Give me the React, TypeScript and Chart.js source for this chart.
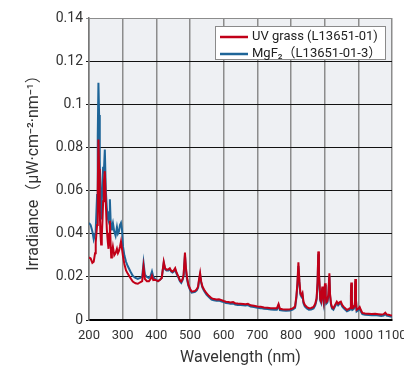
import React, { useEffect, useRef } from "react";
import { Chart, registerables } from "chart.js";
Chart.register(...registerables);

const wavelengths = [
  200, 205, 210, 214, 218, 220, 224, 226, 228, 230, 232, 234, 236, 238, 240, 242, 244, 247, 250, 253,
  256, 258, 260, 262, 264, 266, 268, 271, 275, 279, 283, 286, 289, 292, 295, 298, 301, 305, 310, 315,
  323, 330, 338, 345, 352, 358, 362, 366, 372, 378, 383, 387, 391, 396, 400, 405, 410, 416, 422, 426,
  430, 436, 440, 444, 448, 452, 456, 460, 466, 470, 474, 478, 481, 485, 488, 491, 495, 500, 505, 510,
  515, 520, 524, 527, 530, 533, 537, 542, 549, 556, 564, 571, 579, 586, 594, 600, 607, 614, 620, 628,
  634, 642, 650, 658, 665, 672, 680, 690, 700, 710, 720, 730, 740, 750, 758, 763, 767, 775, 785, 797,
  805, 812, 816, 819, 822, 825, 828, 831, 834, 837, 841, 847, 853, 860, 867, 872, 876, 879, 881, 883,
  885, 887, 889, 891, 893, 895, 897, 899, 901, 903, 905, 908, 911, 914, 916, 919, 922, 926, 931, 936,
  940, 944, 948, 952, 956, 961, 966, 972, 976, 978, 979, 981, 983, 986, 988, 990, 991, 993, 995, 1000,
  1004, 1008, 1012, 1020, 1030, 1040, 1050, 1060, 1068, 1075, 1080, 1084, 1090, 1095, 1100,
];

const uvGrass = [
  0.029, 0.0285, 0.0265, 0.027, 0.031, 0.036, 0.044, 0.06, 0.0837, 0.07, 0.05, 0.04, 0.035, 0.039, 0.046, 0.055, 0.064, 0.069, 0.054, 0.042,
  0.036, 0.033, 0.04, 0.046, 0.036, 0.029, 0.031, 0.034, 0.03, 0.031, 0.033, 0.031, 0.032, 0.034, 0.0364, 0.033, 0.0295, 0.026, 0.023, 0.0215,
  0.0195, 0.0178, 0.017, 0.0168, 0.0175, 0.018, 0.0246, 0.019, 0.018, 0.018, 0.019, 0.0205, 0.0185, 0.0186, 0.0184, 0.018, 0.0185, 0.0195, 0.027, 0.024,
  0.0233, 0.0235, 0.024, 0.0228, 0.0225, 0.023, 0.024, 0.022, 0.02, 0.0185, 0.0178, 0.019, 0.021, 0.0313, 0.024, 0.02, 0.0165, 0.0145, 0.0132, 0.0133,
  0.0135, 0.0142, 0.0155, 0.019, 0.0217, 0.018, 0.0155, 0.014, 0.0124, 0.0112, 0.0101, 0.0097, 0.0095, 0.0096, 0.0092, 0.0088, 0.0085, 0.0083, 0.0081, 0.0083,
  0.0078, 0.0076, 0.0075, 0.0074, 0.0073, 0.0075, 0.0068, 0.0066, 0.0063, 0.0061, 0.0058, 0.0057, 0.0055, 0.0054, 0.0054, 0.0074, 0.0052, 0.005, 0.0049, 0.005,
  0.0054, 0.0062, 0.011, 0.017, 0.0267, 0.018, 0.0124, 0.0115, 0.0125, 0.0085, 0.007, 0.006, 0.0055, 0.0056, 0.006, 0.0075, 0.0101, 0.018, 0.0318, 0.022,
  0.016, 0.0095, 0.0088, 0.012, 0.0155, 0.0105, 0.0085, 0.013, 0.017, 0.0115, 0.0083, 0.0088, 0.012, 0.0217, 0.012, 0.0075, 0.006, 0.0055, 0.007, 0.0085,
  0.0075, 0.0082, 0.0085, 0.007, 0.0062, 0.0055, 0.0047, 0.0052, 0.0056, 0.012, 0.0174, 0.009, 0.0055, 0.0058, 0.0065, 0.014, 0.019, 0.0095, 0.0047, 0.0052,
  0.006, 0.0045, 0.0033, 0.003, 0.0029, 0.0028, 0.0029, 0.0027, 0.0025, 0.0027, 0.0034, 0.0026, 0.0024, 0.0022, 0.0021,
];

const mgf2 = [
  0.045, 0.044, 0.041, 0.0375, 0.04, 0.042, 0.058, 0.085, 0.11, 0.095, 0.074, 0.058, 0.047, 0.055, 0.063, 0.071, 0.068, 0.079, 0.06, 0.052,
  0.047, 0.046, 0.05, 0.056, 0.047, 0.042, 0.043, 0.045, 0.041, 0.039, 0.043, 0.04, 0.041, 0.044, 0.045, 0.042, 0.034, 0.03, 0.027, 0.025,
  0.0225, 0.0205, 0.0195, 0.019, 0.0195, 0.02, 0.0265, 0.021, 0.02, 0.0195, 0.0205, 0.0225, 0.02, 0.019, 0.0186, 0.018, 0.0185, 0.0195, 0.0265, 0.0235,
  0.023, 0.023, 0.0235, 0.0225, 0.022, 0.0225, 0.0235, 0.0215, 0.0195, 0.018, 0.0172, 0.0185, 0.0205, 0.03, 0.023, 0.019, 0.016, 0.014, 0.0127, 0.0128,
  0.013, 0.0137, 0.015, 0.0185, 0.021, 0.0175, 0.015, 0.0135, 0.0118, 0.0106, 0.0095, 0.0091, 0.0089, 0.009, 0.0086, 0.0083, 0.0079, 0.0077, 0.0075, 0.0077,
  0.0072, 0.007, 0.0069, 0.0068, 0.0067, 0.0069, 0.0062, 0.006, 0.0057, 0.0055, 0.0052, 0.0051, 0.0049, 0.0048, 0.0048, 0.0068, 0.0046, 0.0044, 0.0043, 0.0044,
  0.0048, 0.0056, 0.0102, 0.016, 0.025, 0.017, 0.0117, 0.0108, 0.0118, 0.0078, 0.0063, 0.0053, 0.0048, 0.0049, 0.0053, 0.0068, 0.0093, 0.017, 0.0305, 0.021,
  0.015, 0.0088, 0.0081, 0.0112, 0.0147, 0.0098, 0.0078, 0.0122, 0.0162, 0.0108, 0.0076, 0.0081, 0.0112, 0.0205, 0.0112, 0.0068, 0.0053, 0.0048, 0.0063, 0.0078,
  0.0068, 0.0075, 0.0078, 0.0063, 0.0055, 0.0048, 0.004, 0.0045, 0.0049, 0.011, 0.0165, 0.0083, 0.0048, 0.0051, 0.0058, 0.013, 0.018, 0.0088, 0.004, 0.0045,
  0.0053, 0.0038, 0.0027, 0.0024, 0.0023, 0.0022, 0.0023, 0.0021, 0.0019, 0.0021, 0.0028, 0.002, 0.0018, 0.0016, 0.0015,
];

const xTicks = [200, 300, 400, 500, 600, 700, 800, 900, 1000, 1100];
const yTicks = [0, 0.02, 0.04, 0.06, 0.08, 0.1, 0.12, 0.14];
const seriesNames = ["UV grass (L13651-01)", "MgF\u2082\uff08L13651-01-3\uff09"];
const seriesColors = ["#c10018", "#1e6598"];
const xTitle = "Wavelength (nm)";
const yTitle = "Irradiance\uff08\u03bcW\u00b7cm\u207b\u00b2\u00b7nm\u207b\u00b9\uff09";

const FONT = "Roboto, 'Noto Sans', 'Noto Sans CJK JP', sans-serif";

export default function App() {
  const ref = useRef<HTMLCanvasElement | null>(null);

  useEffect(() => {
    if (!ref.current) return;

    const bgPlugin = {
      id: "plotBg",
      beforeDraw(chart: any) {
        const { ctx, chartArea: a } = chart;
        ctx.save();
        ctx.fillStyle = "#eef0f3";
        ctx.fillRect(a.left, a.top, a.right - a.left, a.bottom - a.top);
        ctx.restore();
      },
    };

    const legendPlugin = {
      id: "boxLegend",
      afterDraw(chart: any) {
        const { ctx, chartArea: a } = chart;
        const left = a.right - 177;
        const top = a.top + 8;
        const w = 170;
        const h = 33;
        ctx.save();
        ctx.fillStyle = "#ffffff";
        ctx.fillRect(left, top, w, h);
        ctx.strokeStyle = "#8a8a8a";
        ctx.lineWidth = 1;
        ctx.strokeRect(left + 0.5, top + 0.5, w, h);
        ctx.font = `13px ${FONT}`;
        ctx.textBaseline = "middle";
        ctx.textAlign = "left";
        seriesNames.forEach((name, i) => {
          const y = top + 11 + i * 17;
          ctx.strokeStyle = seriesColors[i];
          ctx.lineWidth = 2.5;
          ctx.beginPath();
          ctx.moveTo(left + 5, y);
          ctx.lineTo(left + 33, y);
          ctx.stroke();
          ctx.fillStyle = "#222";
          ctx.fillText(name, left + 37, y);
        });
        ctx.restore();
      },
    };

    const mk = (vals: number[]) => wavelengths.map((x, i) => ({ x, y: vals[i] }));

    const chart = new Chart(ref.current, {
      type: "line",
      data: {
        datasets: [
          {
            label: seriesNames[0],
            data: mk(uvGrass),
            borderColor: seriesColors[0],
            borderWidth: 2,
            pointRadius: 0,
            tension: 0,
          },
          {
            label: seriesNames[1],
            data: mk(mgf2),
            borderColor: seriesColors[1],
            borderWidth: 2,
            pointRadius: 0,
            tension: 0,
          },
        ],
      },
      options: {
        responsive: false,
        animation: false,
        layout: { padding: { left: 0, top: 18, right: 12, bottom: 0 } },
        plugins: { legend: { display: false }, tooltip: { enabled: false } },
        scales: {
          x: {
            type: "linear",
            min: 200,
            max: 1100,
            afterBuildTicks: (s: any) => {
              s.ticks = xTicks.map((v) => ({ value: v }));
            },
            afterFit: (s: any) => {
              s.height = 56;
              s.paddingLeft = 0;
              s.paddingRight = 0;
            },
            ticks: {
              autoSkip: false,
              maxRotation: 0,
              padding: 8,
              color: "#333",
              font: { family: FONT, size: 13 },
              callback: (v: any) => String(v),
            },
            grid: { color: "#8c8c8c", lineWidth: 1.5, drawTicks: false },
            border: { display: true, color: "#000", width: 2 },
            title: {
              display: true,
              text: xTitle,
              color: "#333",
              font: { family: FONT, size: 16 },
              padding: { top: 0, bottom: 8 },
            },
          },
          y: {
            type: "linear",
            min: 0,
            max: 0.14,
            afterBuildTicks: (s: any) => {
              s.ticks = yTicks.map((v) => ({ value: v }));
            },
            afterFit: (s: any) => {
              s.width = 89;
              s.paddingTop = 0;
              s.paddingBottom = 0;
            },
            ticks: {
              autoSkip: false,
              padding: 3,
              color: "#333",
              font: { family: FONT, size: 14 },
              callback: (v: any) => (v === 0 ? "0" : String(v)),
            },
            grid: {
              color: (c: any) => (c.tick && c.tick.value === 0.14 ? "#8c8c8c" : "#111"),
              lineWidth: 1,
              tickLength: 3,
            },
            border: { display: true, color: "#777", width: 1.5 },
            title: {
              display: true,
              text: yTitle,
              color: "#333",
              font: { family: FONT, size: 16 },
              padding: { top: 24, bottom: 0 },
            },
          },
        },
      },
      plugins: [bgPlugin, legendPlugin],
    });

    return () => chart.destroy();
  }, []);

  return (
    <div style={{ position: "fixed", left: 0, top: 0, width: 404, height: 376, background: "#fff" }}>
      <canvas ref={ref} width={404} height={376} style={{ display: "block" }} />
    </div>
  );
}
